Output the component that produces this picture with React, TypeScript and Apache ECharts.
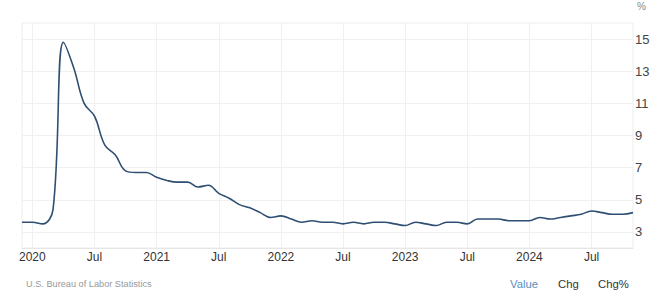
import React, { useEffect, useRef } from "react";
import * as echarts from "echarts";

const months: string[] = [
  "2019-12",
  "2020-01", "2020-02", "2020-03", "2020-04", "2020-05", "2020-06", "2020-07", "2020-08", "2020-09", "2020-10", "2020-11", "2020-12",
  "2021-01", "2021-02", "2021-03", "2021-04", "2021-05", "2021-06", "2021-07", "2021-08", "2021-09", "2021-10", "2021-11", "2021-12",
  "2022-01", "2022-02", "2022-03", "2022-04", "2022-05", "2022-06", "2022-07", "2022-08", "2022-09", "2022-10", "2022-11", "2022-12",
  "2023-01", "2023-02", "2023-03", "2023-04", "2023-05", "2023-06", "2023-07", "2023-08", "2023-09", "2023-10", "2023-11", "2023-12",
  "2024-01", "2024-02", "2024-03", "2024-04", "2024-05", "2024-06", "2024-07", "2024-08", "2024-09", "2024-10", "2024-11",
];

const unemploymentRate: number[] = [
  3.6,
  3.6, 3.5, 4.4, 14.8, 13.2, 11.0, 10.2, 8.4, 7.8, 6.8, 6.7, 6.7,
  6.4, 6.2, 6.1, 6.1, 5.8, 5.9, 5.4, 5.1, 4.7, 4.5, 4.2, 3.9,
  4.0, 3.8, 3.6, 3.7, 3.6, 3.6, 3.5, 3.6, 3.5, 3.6, 3.6, 3.5,
  3.4, 3.6, 3.5, 3.4, 3.6, 3.6, 3.5, 3.8, 3.8, 3.8, 3.7, 3.7,
  3.7, 3.9, 3.8, 3.9, 4.0, 4.1, 4.3, 4.2, 4.1, 4.1, 4.2,
];

const yTicks: number[] = [3, 5, 7, 9, 11, 13, 15];

const sourceText = "U.S. Bureau of Labor Statistics";
const tabLabels: string[] = ["Value", "Chg", "Chg%"];

const FONT = "Arial, 'Liberation Sans', sans-serif";

function isLabelMonth(_idx: number, value: string): boolean {
  const m = value.slice(5);
  return m === "01" || m === "07";
}

export default function App() {
  const ref = useRef<HTMLDivElement>(null);

  useEffect(() => {
    if (!ref.current) return;
    const chart = echarts.init(ref.current, undefined, { renderer: "svg" });
    chart.setOption({
      animation: false,
      backgroundColor: "#ffffff",
      grid: {
        left: 22,
        right: 25,
        top: 23,
        bottom: 53,
        show: true,
        borderColor: "#ededed",
        borderWidth: 1,
      },
      xAxis: {
        type: "category",
        data: months,
        boundaryGap: false,
        axisLine: { show: true, lineStyle: { color: "#e6e6e6" } },
        axisTick: { show: false },
        axisLabel: {
          interval: isLabelMonth,
          formatter: (v: string) => (v.slice(5) === "01" ? v.slice(0, 4) : "Jul"),
          color: "#333333",
          fontFamily: FONT,
          fontSize: 12,
          margin: 3,
        },
        splitLine: {
          show: true,
          interval: isLabelMonth,
          lineStyle: { color: "#f0f0f0", width: 1 },
        },
      },
      yAxis: {
        type: "value",
        position: "right",
        min: 2,
        max: 16,
        axisLine: { show: false },
        axisTick: { show: false, customValues: yTicks },
        axisLabel: {
          customValues: yTicks,
          color: "#444444",
          fontFamily: FONT,
          fontSize: 13,
          margin: 2,
        },
        splitLine: { show: true, lineStyle: { color: "#f0f0f0", width: 1 } },
      },
      series: [
        {
          type: "line",
          data: unemploymentRate,
          smooth: 0.4,
          showSymbol: false,
          symbol: "none",
          lineStyle: { color: "#2e4f72", width: 1.6 },
        },
      ],
      graphic: [
        {
          type: "text",
          left: 637,
          top: 1,
          style: { text: "%", fill: "#888888", font: `10px ${FONT}` },
        },
        {
          type: "text",
          left: 26,
          top: 279,
          style: { text: sourceText, fill: "#999999", font: `9.2px ${FONT}` },
        },
        {
          type: "text",
          left: 510,
          top: 278,
          style: { text: tabLabels[0], fill: "#5b8fbd", font: `11.3px ${FONT}` },
        },
        {
          type: "text",
          left: 558,
          top: 278,
          style: { text: tabLabels[1], fill: "#333333", font: `11.3px ${FONT}` },
        },
        {
          type: "text",
          left: 598,
          top: 278,
          style: { text: tabLabels[2], fill: "#333333", font: `11.3px ${FONT}` },
        },
      ],
    });
    return () => chart.dispose();
  }, []);

  return (
    <div
      ref={ref}
      style={{ position: "fixed", left: 0, top: 0, width: 658, height: 301 }}
    />
  );
}
